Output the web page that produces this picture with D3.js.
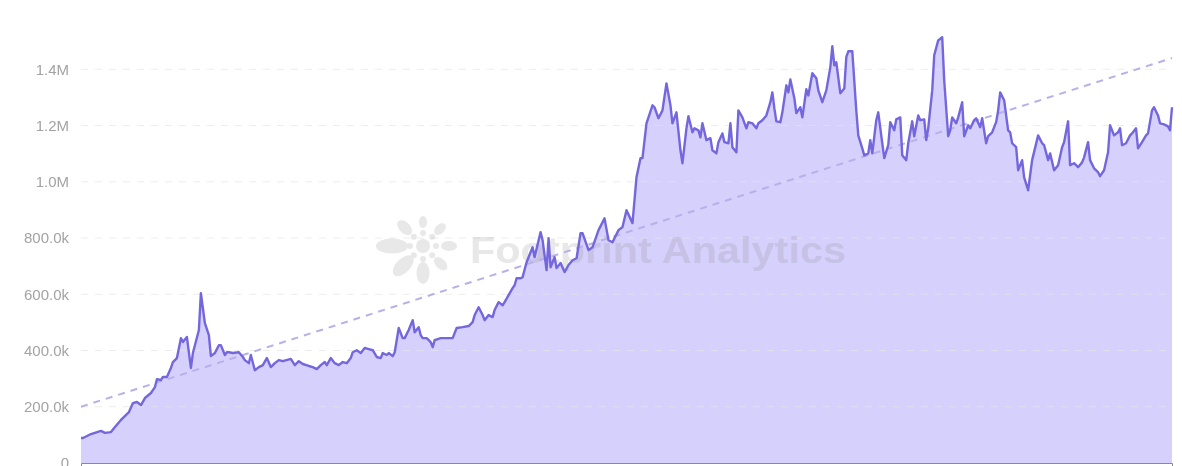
<!DOCTYPE html>
<html><head><meta charset="utf-8">
<script src="https://cdn.jsdelivr.net/npm/d3@7/dist/d3.min.js"></script>
<style>html,body{margin:0;padding:0;background:#fff;overflow:hidden}</style>
</head><body><svg id="c" width="1182" height="466"></svg>
<script>
// day index of each observation
const days = [
0,1,5,10,12,15,17,20,24,26,
28,30,32,35,37,38,40,41,43,45,
46,48,50,51,53,55,56,59,60,62,
64,65,67,69,70,72,73,74,76,79,
81,82,84,85,87,89,91,93,95,97,
99,101,105,107,109,111,114,116,118,120,
122,123,125,127,129,131,133,135,136,138,
140,142,144,146,148,150,151,153,154,156,
157,158,159,161,162,164,166,167,169,170,
171,173,175,176,177,180,183,186,188,191,
194,196,197,199,201,202,204,206,207,209,
211,212,214,216,217,218,220,221,223,226,
227,230,231,233,234,235,237,238,240,242,
244,246,248,250,251,254,256,259,262,264,
266,269,271,273,276,278,280,281,283,286,
287,289,291,293,295,296,298,300,301,303,
304,306,307,309,310,311,313,315,316,318,
319,321,322,324,325,326,328,329,331,333,
334,336,338,339,341,343,345,346,347,348,
350,351,353,354,355,357,358,360,361,363,
364,366,368,369,371,373,375,376,377,378,
380,382,383,384,386,388,389,391,392,394,
395,396,398,399,401,402,404,405,407,408,
410,411,413,414,416,417,419,420,422,423,
424,426,427,429,431,432,434,435,436,438,
439,441,442,444,445,447,448,450,451,453,
454,456,458,459,460,462,464,465,466,468,
469,471,472,474,476,479,481,482,484,485,
487,489,491,492,494,495,497,499,501,502,
504,505,507,509,510,512,514,515,517,519,
520,521,523,525,526,528,529,531,533,534,
536,537,539,540,542,544,545,546];
// values in thousands
const values = [
89,89,103,114,107,110,128,153,181,213,
217,206,231,249,270,298,295,306,306,338,
359,373,444,430,448,338,391,473,604,497,
455,380,391,419,419,384,394,394,391,394,
377,366,355,384,330,341,348,373,341,355,
366,362,370,348,362,352,345,341,334,348,
359,348,373,355,348,359,355,373,394,401,
391,409,405,401,377,373,391,384,391,380,
394,437,480,444,444,473,508,465,483,455,
444,444,430,412,437,444,444,444,480,483,
487,501,526,554,526,508,526,519,544,572,
561,572,597,622,632,657,657,661,714,767,
732,821,792,686,799,696,732,693,711,679,
704,721,728,817,817,757,767,828,870,792,
785,828,839,899,853,1016,1084,1084,1208,1272,
1265,1226,1254,1350,1272,1208,1247,1112,1066,1190,
1233,1176,1190,1183,1158,1208,1148,1155,1112,1101,
1141,1172,1141,1137,1208,1123,1105,1254,1229,1190,
1212,1208,1190,1208,1219,1236,1283,1318,1261,1215,
1212,1247,1343,1318,1364,1297,1244,1265,1229,1329,
1307,1386,1368,1325,1283,1325,1407,1482,1414,1425,
1315,1332,1443,1464,1464,1254,1165,1119,1094,1101,
1148,1101,1219,1247,1137,1084,1130,1212,1183,1222,
1229,1094,1077,1137,1215,1162,1236,1219,1222,1148,
1190,1325,1450,1503,1514,1361,1162,1183,1229,1208,
1229,1283,1162,1201,1190,1219,1226,1194,1226,1137,
1162,1176,1212,1254,1318,1290,1183,1176,1137,1123,
1041,1077,1016,970,1077,1165,1137,1130,1077,1101,
1041,1059,1123,1141,1215,1059,1066,1052,1069,1087,
1141,1077,1048,1034,1020,1041,1105,1201,1165,1176,
1190,1130,1137,1165,1172,1190,1119,1141,1165,1172,
1254,1265,1236,1208,1204,1197,1183,1265];
const yTicks = [0,200,400,600,800,1000,1200,1400];
const yTickLabels = ["0","200.0k","400.0k","600.0k","800.0k","1.0M","1.2M","1.4M"];
const trendValues = [200, 1440]; // trend line at first and last day (thousands)

const data = days.map((d,i)=>({d, v: values[i]}));
const svg = d3.select("#c");
const x = d3.scaleLinear().domain([0, d3.max(days)]).range([81, 1172]);
const y = d3.scaleLinear().domain([0, 1400]).range([463, 69.3]);

// area
svg.append("path").datum(data)
  .attr("d", d3.area().x(p=>x(p.d)).y0(y(0)).y1(p=>y(p.v)))
  .attr("fill", "#d6d0fc");

// gridlines
svg.append("g").selectAll("line").data(yTicks.slice(1)).join("line")
  .attr("x1", 81).attr("x2", 1172)
  .attr("y1", t=>y(t)).attr("y2", t=>y(t))
  .attr("stroke", "#e6e6e6").attr("stroke-opacity", 0.7)
  .attr("stroke-dasharray", "7,7").attr("stroke-width", 1);

// watermark
const wm = svg.append("g").attr("opacity", 0.2).attr("fill", "#8a8a8a");
const cx = 423, cy = 246;
wm.append("circle").attr("cx", cx).attr("cy", cy).attr("r", 7);
[0,45,90,135,180,225,270,315].forEach(a=>{
  const r = a*Math.PI/180;
  wm.append("circle").attr("cx", cx+13*Math.cos(r)).attr("cy", cy+13*Math.sin(r)).attr("r", 3);
});
const petals = [
  {a:180, d:31, rx:16, ry:7.5},
  {a:135, d:28, rx:13, ry:7},
  {a:90,  d:27, rx:11, ry:6.5},
  {a:45,  d:25, rx:8,  ry:5},
  {a:0,   d:26, rx:8,  ry:5},
  {a:315, d:24, rx:7,  ry:4.5},
  {a:270, d:24, rx:6,  ry:4},
  {a:225, d:26, rx:9,  ry:5.5}
];
petals.forEach(p=>{
  const r = p.a*Math.PI/180;
  wm.append("ellipse")
    .attr("cx", 0).attr("cy", 0).attr("rx", p.rx).attr("ry", p.ry)
    .attr("transform", `translate(${cx+p.d*Math.cos(r)},${cy+p.d*Math.sin(r)}) rotate(${p.a})`);
});
wm.append("text").attr("x", 470).attr("y", 263)
  .attr("font-family", "Liberation Sans, Arial, sans-serif")
  .attr("font-weight", "bold").attr("font-size", 37)
  .attr("textLength", 376).attr("lengthAdjust", "spacingAndGlyphs")
  .text("Footprint Analytics");

// trend line
svg.append("line")
  .attr("x1", x(days[0])).attr("y1", y(trendValues[0]))
  .attr("x2", x(days[days.length-1])).attr("y2", y(trendValues[1]))
  .attr("stroke", "#b9afe9").attr("stroke-width", 2).attr("stroke-dasharray", "7,6");

// main line
svg.append("path").datum(data)
  .attr("d", d3.line().x(p=>x(p.d)).y(p=>y(p.v)))
  .attr("fill", "none").attr("stroke", "#7467dd").attr("stroke-width", 2.4)
  .attr("stroke-linejoin", "round");

// y labels
svg.append("g").selectAll("text").data(yTicks).join("text")
  .attr("x", 69).attr("y", t=>y(t)).attr("dy", "0.36em")
  .attr("text-anchor", "end")
  .attr("font-family", "Liberation Sans, Arial, sans-serif")
  .attr("font-size", 15).attr("fill", "#a3a3a3")
  .text((t,i)=>yTickLabels[i]);

// x axis
const xa = svg.append("g").attr("transform", `translate(0,${y(0)})`)
  .call(d3.axisBottom(x).tickValues([]).tickSizeOuter(6));
xa.select(".domain").attr("stroke", "#8a8a8a");
</script></body></html>
